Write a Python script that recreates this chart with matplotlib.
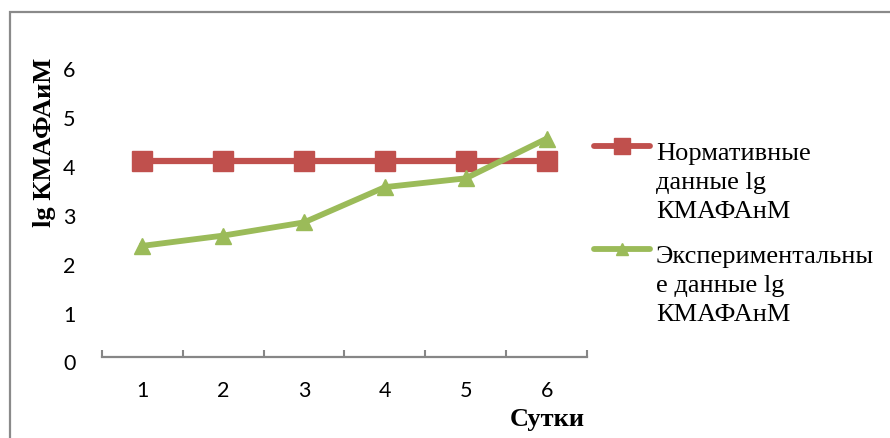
import matplotlib.pyplot as plt
import matplotlib.transforms as mtransforms
from matplotlib.lines import Line2D
from matplotlib.patches import Rectangle

# данные
days = [1, 2, 3, 4, 5, 6]
norm_lg = [4.0, 4.0, 4.0, 4.0, 4.0, 4.0]
exp_lg = [2.26, 2.47, 2.74, 3.46, 3.64, 4.45]
norm_label = "Нормативные\nданные lg\nКМАФАнМ"
exp_label = "Экспериментальны\nе данные lg\nКМАФАнМ"

red = "#C0504D"
green = "#9BBB59"
gray = "#868686"

fig = plt.figure(figsize=(8.9, 4.39), dpi=100)
ax = fig.add_axes([102 / 890, 1 - 357.5 / 439, 485 / 890, (357.5 - 63.8) / 439])

ax.plot(days, norm_lg, color=red, lw=4.5, marker="s", ms=15, zorder=3)
ax.plot(days, exp_lg, color=green, lw=4.2, marker="^", ms=12, zorder=4)

ax.set_xlim(0.5, 6.5)
ax.set_ylim(0, 6)
ax.set_xticks(days)
ax.set_xticks([0.5 + i for i in range(7)], minor=True)
ax.set_yticks(range(7))

for s in ["top", "right", "left"]:
    ax.spines[s].set_visible(False)
ax.spines["bottom"].set_color(gray)
ax.spines["bottom"].set_linewidth(1.6)

ax.tick_params(axis="x", which="major", length=0, pad=17, labelsize=15.5)
ax.tick_params(axis="x", which="minor", direction="in", length=5, width=1.5, color=gray)
ax.tick_params(axis="y", length=0, pad=19, labelsize=15.5)
for lab in ax.get_xticklabels() + ax.get_yticklabels():
    lab.set_fontfamily("Lato")
# подписи оси y в Excel чуть ниже своих значений
off = mtransforms.ScaledTranslation(0, -5 / 100, fig.dpi_scale_trans)
for lab in ax.get_yticklabels():
    lab.set_transform(lab.get_transform() + off)

fig.text(547 / 890, 1 - 420 / 439, "Сутки", family="Liberation Serif", weight="bold",
         fontsize=19, ha="center", va="center")
fig.text(45 / 890, 1 - 142 / 439, "lg КМАФАиМ", family="Liberation Serif", weight="bold",
         fontsize=19, ha="center", va="center", rotation=90)

# легенда
entries = [(norm_label, red, "s", 147, 151, 11), (exp_label, green, "^", 250, 254, 8)]
for text, col, mk, ly, ty, msz in entries:
    yy = 1 - ly / 439
    fig.add_artist(Line2D([594 / 890, 650 / 890], [yy, yy], transform=fig.transFigure,
                          color=col, lw=4.2, solid_capstyle="round"))
    fig.add_artist(Line2D([622 / 890], [yy], transform=fig.transFigure,
                          color=col, marker=mk, ms=msz, lw=0))
    fig.text(656 / 890, 1 - (ty - 8) / 439, text, family="Liberation Serif", fontsize=19,
             ha="left", va="top", linespacing=1.42)

fig.add_artist(Rectangle((10 / 890, -0.1), 2, 1.1 - 13 / 439, transform=fig.transFigure,
                         fill=False, edgecolor="#8a8a8a", lw=1.6))

fig.savefig("out.png", dpi=100)
